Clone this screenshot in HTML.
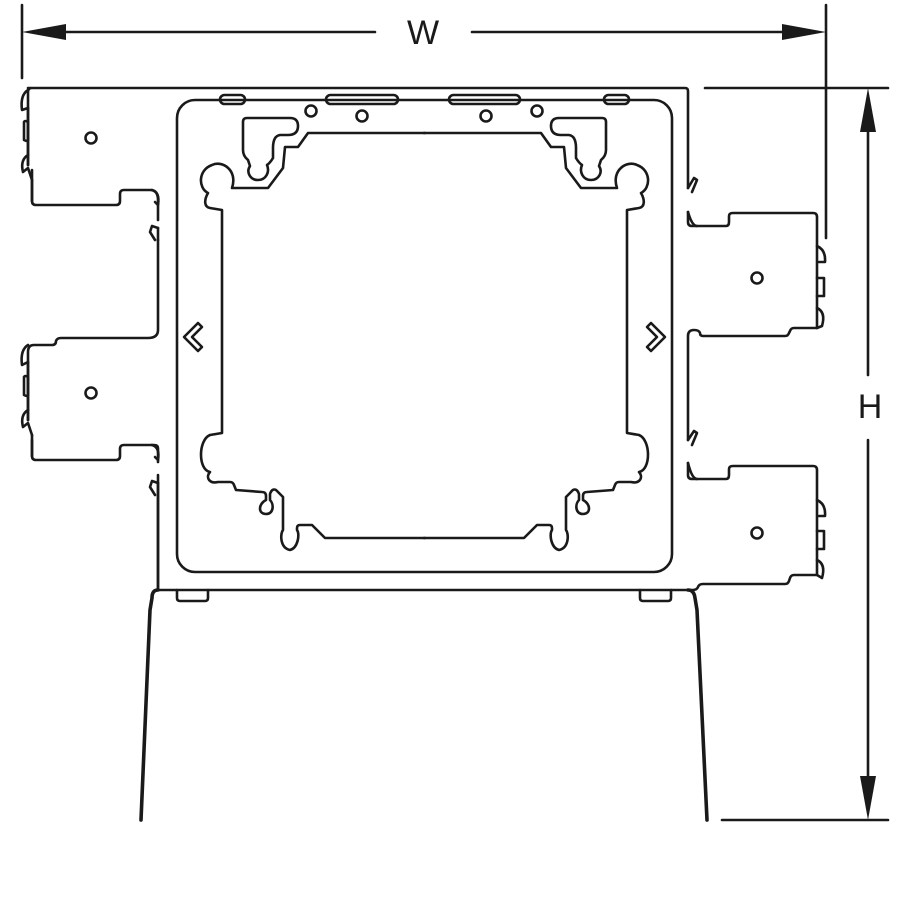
<!DOCTYPE html>
<html><head><meta charset="utf-8"><style>
html,body{margin:0;padding:0;background:#fff}
svg{display:block}
text{font-family:"Liberation Sans",sans-serif;font-size:34px;fill:#1a1a1a}
</style></head><body>
<svg width="900" height="900" viewBox="0 0 900 900" xmlns="http://www.w3.org/2000/svg">
<g fill="none" stroke="#1a1a1a" stroke-width="2.6" stroke-linejoin="round" stroke-linecap="round">
<line x1="22" y1="5" x2="22" y2="78"/>
<line x1="826" y1="5" x2="826" y2="238"/>
<line x1="40" y1="32" x2="375" y2="32"/>
<line x1="472" y1="32" x2="808" y2="32"/>
<line x1="705" y1="88" x2="888" y2="88"/>
<line x1="722" y1="820" x2="888" y2="820"/>
<line x1="868" y1="110" x2="868" y2="375"/>
<line x1="868" y1="440" x2="868" y2="800"/>

<path d="M28,88 L685,88 Q688,88 688,91 L688,188
 M688,212 L688,222 Q688,226 692,226 L726,226 Q729,226 729,222 L729,216 Q729,213 733,213 L813,213 Q817,213 817,217 L817,328
 M817,328 L794,328 Q791,328 790,331 L789,333 Q788,336 785,336 L703,336 Q700,336 700,333 Q699,330 694,330 Q688,330 688,336 L688,440
 M688,463 L688,475 Q688,479 692,479 L726,479 Q729,479 729,475 L729,469 Q729,466 733,466 L813,466 Q817,466 817,470 L817,575
 M817,575 L794,575 Q791,575 790,578 L789,581 Q788,584 785,584 L703,584 Q699,584 698,587 Q697,590 692,590 L158,590
 M158,590 L158,475
 M158,462 L158,448 Q158,445 154,445 L124,445 Q120,445 120,449 L120,456 Q120,460 116,460 L36,460 Q32,460 32,456 L32,440
 M28,420 L28,352 Q28,345 34,345 L52,345 Q56,345 56,341 Q57,338 61,338 L148,338 Q158,338 158,330 L158,240
 M158,220 L158,200 Q158,190 150,190 L124,190 Q120,190 120,194 L120,201 Q120,205 116,205 L36,205 Q32,205 32,201 L32,170
 M28,165 L28,92 Q28,88 32,88"/>
<path d="M28,90 Q20,95 22,110 L28,108"/>
<path d="M24,122 L24,140 Q28,142 28,140 L28,122 Q25,120 24,122"/>
<path d="M28,155 Q20,160 23,172 L28,168 L32,180"/>
<path d="M28,345 Q20,350 22,365 L28,362"/>
<path d="M24,377 L24,395 Q28,397 28,395 L28,377 Q25,375 24,377"/>
<path d="M28,410 Q20,415 23,427 L28,423 L32,435"/>
<line x1="28" y1="165" x2="28" y2="155"/><line x1="28" y1="420" x2="28" y2="410"/>
<line x1="28" y1="108" x2="28" y2="155"/><line x1="28" y1="362" x2="28" y2="410"/>
<line x1="32" y1="180" x2="32" y2="201"/><line x1="32" y1="435" x2="32" y2="456"/>
<path d="M152,190 Q160,192 158,205 L155,202"/>
<path d="M155,240 L150,232 L152,226 L158,228"/>
<path d="M152,445 Q160,447 158,460 L155,457"/>
<path d="M155,495 L150,487 L152,481 L158,483"/>
<line x1="158" y1="228" x2="158" y2="240"/><line x1="158" y1="483" x2="158" y2="590"/>
<path d="M688,188 L694,178 L697,180 L692,192"/>
<path d="M688,212 Q692,226 697,226"/>
<path d="M688,440 L694,431 L697,433 L692,445"/>
<path d="M688,463 Q692,479 697,479"/>
<path d="M817,246 Q826,250 825,262 L819,262"/>
<path d="M817,278 L824,278 L824,296 L817,296"/>
<path d="M817,308 Q826,312 822,326 L817,328"/>
<path d="M817,500 Q826,504 825,516 L819,516"/>
<path d="M817,531 L824,531 L824,549 L817,549"/>
<path d="M817,560 Q826,564 822,578 L817,575"/>

<circle cx="91" cy="138" r="5.5"/><circle cx="91" cy="393" r="5.5"/>
<circle cx="757" cy="278" r="5.5"/><circle cx="757" cy="533" r="5.5"/>
<circle cx="311" cy="111" r="5.5"/><circle cx="362" cy="116" r="5.5"/>
<circle cx="486" cy="116" r="5.5"/><circle cx="537" cy="111" r="5.5"/>
<rect x="220" y="95" width="25" height="9" rx="4.5"/>
<rect x="326" y="95" width="72" height="9" rx="4.5"/>
<rect x="449" y="95" width="71" height="9" rx="4.5"/>
<rect x="604" y="95" width="25" height="9" rx="4.5"/>
<path d="M177,590 L177,598 Q177,601 180,601 L205,601 Q208,601 208,598 L208,590"/>
<path d="M640,590 L640,598 Q640,601 643,601 L668,601 Q671,601 671,598 L671,590"/>

<rect x="177" y="100" width="495" height="472" rx="18"/>

<g id="h">
<path d="M425,133 L308,133 L298,147 L285,147 L283,168 L268,188 L232,188 C238,170 222,160 212,165 C198,170 198,188 208,193 C204,200 204,207 210,208 L222,210 L222,433 L210,435 C198,440 198,470 210,472 C205,478 210,484 218,482 L230,482 Q233,482 234,485 L236,490 L262,492 Q266,492 266,496 L266,500 C258,504 258,514 266,514 C274,514 274,504 270,500 L270,494 Q272,488 276,490 L283,497 L283,530 C280,534 280,548 290,550 C298,548 300,534 297,530 L297,528 Q297,525 300,525 L312,525 L325,538 L425,538"/>
<path d="M243,150 L243,122 Q243,118 247,118 L290,118 Q298,118 298,126 Q298,135 288,135 L280,135 Q273,136 273,148 L273,158 Q270,163 267,165 C270,172 266,180 258,180 C250,180 246,172 250,166 L248,160 Q243,156 243,150"/>
<path d="M198,323 L184,337 L198,351 L202,347 L192,337 L202,327 Z"/>
</g>
<use href="#h" transform="translate(849,0) scale(-1,1)"/>

<path d="M158,590 Q152,590 152,598 L150,610 L141,820" stroke-width="3.6"/>
<path d="M688,590 Q694,590 695,598 L697,610 L707,820" stroke-width="3.6"/>
</g>
<g fill="#1a1a1a">
<polygon points="22,32 66,24 66,40"/>
<polygon points="826,32 782,24 782,40"/>
<polygon points="868,88 860,132 876,132"/>
<polygon points="868,820 860,776 876,776"/>
</g>
<text x="423" y="44" text-anchor="middle">W</text>
<text x="870" y="418" text-anchor="middle">H</text>
</svg>
</body></html>
